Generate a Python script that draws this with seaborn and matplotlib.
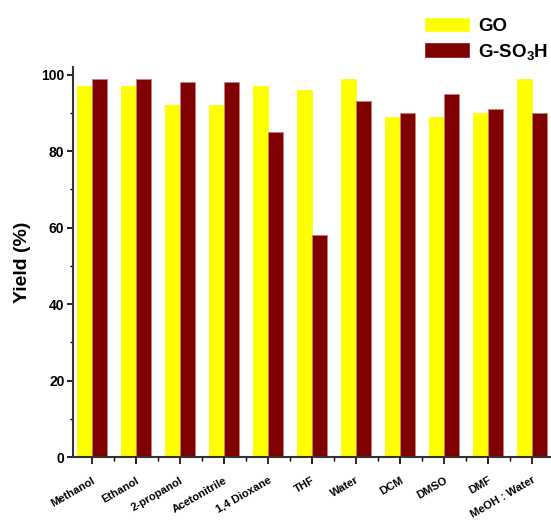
import pandas as pd
import matplotlib
matplotlib.use("Agg")
import matplotlib.pyplot as plt
import seaborn as sns
from matplotlib.ticker import MultipleLocator

solvents = ["Methanol", "Ethanol", "2-propanol", "Acetonitrile", "1,4 Dioxane",
            "THF", "Water", "DCM", "DMSO", "DMF", "MeOH : Water"]
go_yield = [97, 97, 92, 92, 97, 96, 99, 89, 89, 90, 99]
gso3h_yield = [99, 99, 98, 98, 85, 58, 93, 90, 95, 91, 90]
series = ["GO", "G-SO$_3$H"]
colors = ["#FFFF00", "#800000"]

df = pd.DataFrame({
    "solvent": solvents * 2,
    "yield": go_yield + gso3h_yield,
    "catalyst": [series[0]] * len(solvents) + [series[1]] * len(solvents),
})

sns.set_style("ticks")
plt.rcParams["font.family"] = ["Liberation Sans", "DejaVu Sans"]
plt.rcParams["mathtext.fontset"] = "custom"
plt.rcParams["mathtext.rm"] = "Liberation Sans:bold"
plt.rcParams["mathtext.bf"] = "Liberation Sans:bold"
plt.rcParams["mathtext.default"] = "bf"
plt.rcParams["text.color"] = "black"
plt.rcParams["axes.labelcolor"] = "black"
plt.rcParams["xtick.color"] = "black"
plt.rcParams["ytick.color"] = "black"

fig = plt.figure(figsize=(5.51, 5.2), dpi=100)
ax = fig.add_axes([0.132, 0.121, 0.868, 0.750])

sns.barplot(data=df, x="solvent", y="yield", hue="catalyst",
            palette=colors, width=0.68, ax=ax, saturation=1)
for i, bar in enumerate(ax.patches[:2 * len(solvents)]):
    if i < len(solvents):
        bar.set_edgecolor(colors[0])
    else:
        bar.set_edgecolor("#c88080")
    bar.set_linewidth(0.6)

ax.set_xlim(-0.43, 10.43)
ax.set_ylim(0, 102)
ax.yaxis.set_major_locator(MultipleLocator(20))
ax.yaxis.set_minor_locator(MultipleLocator(10))
ax.xaxis.set_minor_locator(MultipleLocator(0.5))
ax.tick_params(axis="y", which="major", direction="out", length=4, width=1.2, pad=2)
ax.tick_params(axis="y", which="minor", direction="out", length=2.5, width=1.0)
ax.tick_params(axis="x", which="major", direction="out", length=5, width=1.2, pad=8)
ax.tick_params(axis="x", which="minor", direction="out", length=3, width=1.0)
ax.set_yticks([0, 20, 40, 60, 80, 100])
ax.set_yticklabels(["0", "20", "40", "60", "80", "100"], fontweight="bold", fontsize=10)
ax.set_xticks(range(len(solvents)))
ax.set_xticklabels(solvents, rotation=30, ha="right", rotation_mode="anchor",
                   fontsize=8, fontweight="bold")

for s in ["top", "right"]:
    ax.spines[s].set_visible(False)
for s in ["left", "bottom"]:
    ax.spines[s].set_linewidth(1.5)
    ax.spines[s].set_color("#333333")

ax.set_xlabel("")
ax.set_ylabel("Yield (%)", fontsize=14, fontweight="bold", labelpad=7)

handles, labels = ax.get_legend_handles_labels()
ax.legend(handles, labels, loc="upper left", bbox_to_anchor=(0.738, 1.0),
          bbox_transform=fig.transFigure, frameon=False,
          prop={"weight": "bold", "size": 13.5}, handlelength=2.5,
          handleheight=0.9, labelspacing=0.35, handletextpad=0.4)

fig.savefig("out.png", dpi=100)
